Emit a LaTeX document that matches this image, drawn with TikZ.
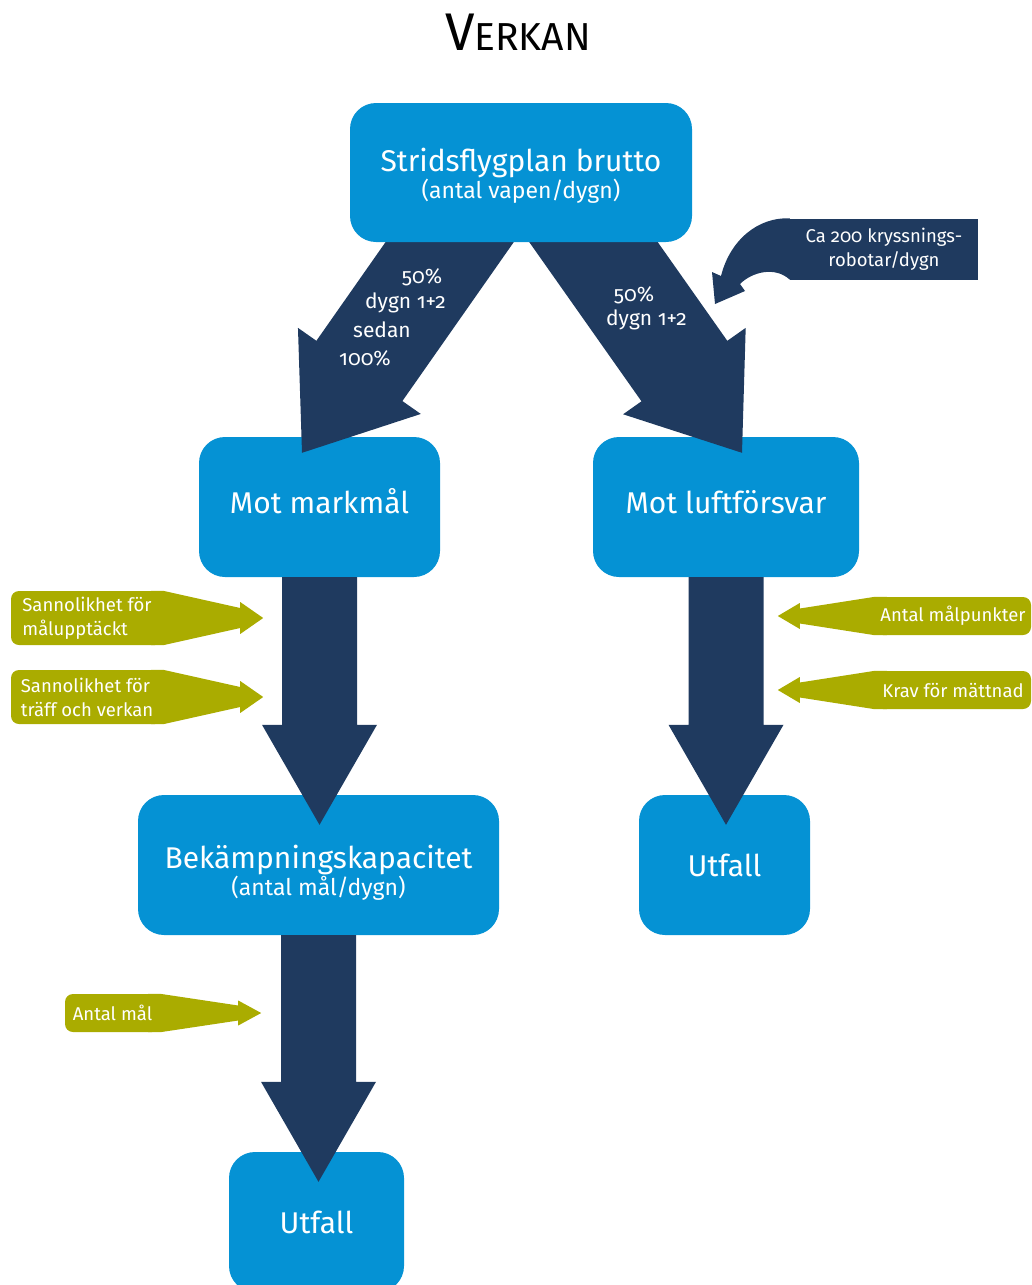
\documentclass[tikz,border=0pt]{standalone}
\usepackage{fontspec}
\setmainfont{Fira Sans}[Numbers=OldStyle]
\usetikzlibrary{calc}
\definecolor{rutbla}{RGB}{5,146,212}
\definecolor{marin}{RGB}{31,58,95}
\definecolor{oliv}{RGB}{170,172,0}
\pgfdeclarelayer{bak}
\pgfdeclarelayer{topp}
\pgfsetlayers{bak,main,topp}
\tikzset{
  ruta/.style={rectangle, rounded corners=26pt, fill=rutbla, text=white, inner sep=0pt,
    align=center, font=\fontsize{30}{27}\selectfont},
  lapp/.style={rectangle, rounded corners=8pt, fill=oliv, text=white, inner sep=0pt,
    align=left, font=\fontsize{18.5}{24}\selectfont},
  andel/.style={text=white, inner sep=0pt, font=\fontsize{21}{26}\selectfont},
}
% fat arrow: start, tip, half shaft, half head, head length
\newcommand{\tjockpil}[5]{%
  \coordinate (hb) at ($(#2)!#5!(#1)$);
  \fill[marin] ($(#1)!#3!90:(#2)$) -- ($(hb)!#3!90:(#2)$) -- ($(hb)!#4!90:(#2)$) -- (#2)
    -- ($(hb)!#4!-90:(#2)$) -- ($(hb)!#3!-90:(#2)$) -- ($(#1)!#3!-90:(#2)$) -- cycle;}
% wedge of a label, pointing right / left
\newcommand{\kilH}[4]{%
  \fill[oliv] ($(#1.north east)+(-12,0)$) -- (#1.north east)
    -- ($(#2)+(-23,-#3)$) -- ($(#2)+(-23,-#4)$) -- (#2)
    -- ($(#2)+(-23,#4)$) -- ($(#2)+(-23,#3)$)
    -- (#1.south east) -- ($(#1.south east)+(-12,0)$) -- cycle;}
\newcommand{\kilV}[4]{%
  \fill[oliv] ($(#1.north west)+(12,0)$) -- (#1.north west)
    -- ($(#2)+(22,-#3)$) -- ($(#2)+(22,-#4)$) -- (#2)
    -- ($(#2)+(22,#4)$) -- ($(#2)+(22,#3)$)
    -- (#1.south west) -- ($(#1.south west)+(12,0)$) -- cycle;}
\begin{document}
\begin{tikzpicture}[x=1pt,y=-1pt]
  \useasboundingbox (0,0) rectangle (1031,1285);
  % ---- title ----
  \node (titel) at (518,32) {\fontsize{53}{53}\selectfont V\fontsize{39}{39}\selectfont ERKAN};
  % ---- boxes ----
  \begin{pgfonlayer}{topp}
    \node[ruta, minimum width=342pt, minimum height=139pt, text height=57pt] (plan) at (521,172.5)
      {Stridsflygplan brutto\\{\fontsize{23}{27}\selectfont (antal vapen/dygn)}};
  \end{pgfonlayer}
  \node[ruta, minimum width=241pt, minimum height=140pt, text depth=12pt] (mark) at (319.5,507) {Mot markmål};
  \node[ruta, minimum width=266pt, minimum height=140pt, text depth=10pt] (luft) at (726,507) {Mot luftförsvar};
  \node[ruta, minimum width=361pt, minimum height=140pt, text height=65pt] (bek) at (318.5,865)
    {Bekämpningskapacitet\\{\fontsize{23}{27}\selectfont (antal mål/dygn)}};
  \node[ruta, minimum width=171pt, minimum height=140pt] (utfH) at (724.5,865) {Utfall};
  \node[ruta, minimum width=175pt, minimum height=140pt] (utfV) at (316.5,1222) {Utfall};
  % ---- big arrows ----
  \coordinate (d1a) at ($(plan.south)+(-49,-32)$);
  \coordinate (d1b) at ($(mark.north)+(-17.5,16)$);
  \coordinate (d2a) at ($(plan.south)+(50,-32)$);
  \coordinate (d2b) at ($(luft.north)+(16,16)$);
  \tjockpil{d1a}{d1b}{52.5pt}{75pt}{100pt}
  \tjockpil{d2a}{d2b}{52.5pt}{75pt}{100pt}
  \coordinate (p1a) at (mark.south);
  \coordinate (p1b) at ($(mark.south |- bek.north)+(0,30)$);
  \coordinate (p2a) at (luft.south);
  \coordinate (p2b) at ($(luft.south |- utfH.north)+(0,30)$);
  \coordinate (p3a) at (bek.south);
  \coordinate (p3b) at ($(bek.south |- utfV.north)+(0,30)$);
  \tjockpil{p1a}{p1b}{37.5pt}{57.5pt}{100pt}
  \tjockpil{p2a}{p2b}{37.5pt}{57.5pt}{100pt}
  \tjockpil{p3a}{p3b}{37.5pt}{57.5pt}{100pt}
  % ---- shares ----
  \node[andel] (v50) at (422,277) {50\%};
  \node[andel] (vdygn) at (405.5,303) {dygn 1+2};
  \node[andel] (vsedan) at (382,330) {sedan};
  \node[andel] (v100) at (365,358) {100\%};
  \node[andel] (h50) at (634,295) {50\%};
  \node[andel] (hdygn) at (646.5,320) {dygn 1+2};
  % ---- cruise missiles ----
  \node[fill=marin, text=white, inner sep=0pt, minimum width=188pt, minimum height=61pt,
    align=center, font=\fontsize{18.5}{24}\selectfont] (kryss) at (884,249)
    {Ca 200 kryssnings-\\robotar/dygn};
  \coordinate (kryssmal) at (715,304);
  % ---- factors ----
  \node[lapp, minimum width=152pt, minimum height=54pt] (sann1) at (87,618)
    {Sannolikhet för\\målupptäckt};
  \node[lapp, minimum width=152pt, minimum height=54pt] (sann2) at (87,697)
    {Sannolikhet för\\träff och verkan};
  \node[lapp, minimum width=95pt, minimum height=38pt] (antal) at (112.5,1013) {Antal mål};
  \node[lapp, minimum width=156pt, minimum height=38pt] (malp) at (953,616) {Antal målpunkter};
  \node[lapp, minimum width=156pt, minimum height=38pt] (krav) at (953,690) {Krav för mättnad};
  \coordinate (sann1mal) at ($(sann1.east)+(100,0)$);
  \coordinate (sann2mal) at ($(sann2.east)+(100,0)$);
  \coordinate (antalmal) at ($(antal.east)+(101,0)$);
  \coordinate (malpmal) at ($(malp.west)+(-97,0)$);
  \coordinate (kravmal) at ($(krav.west)+(-97,0)$);
  \begin{pgfonlayer}{bak}
    \fill[marin] (kryss.north west) .. controls (758,217) and (730,240) .. (721,276)
      -- (712,272) -- (kryssmal) -- (745,291) -- (740,284)
      .. controls (752,272) and (775,266) .. (kryss.south west) -- cycle;
    \kilH{sann1}{sann1mal}{10}{16}
    \kilH{sann2}{sann2mal}{10}{16}
    \kilH{antal}{antalmal}{7.5}{12.5}
    \kilV{malp}{malpmal}{7.5}{13}
    \kilV{krav}{kravmal}{7.5}{13}
  \end{pgfonlayer}
\end{tikzpicture}
\end{document}
